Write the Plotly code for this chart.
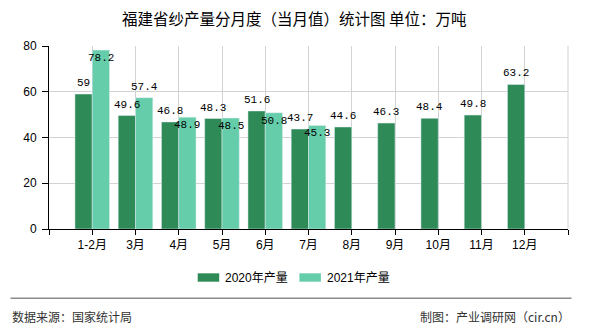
import plotly.graph_objects as go

months = ["1-2月", "3月", "4月", "5月", "6月", "7月", "8月", "9月", "10月", "11月", "12月"]
y2020 = [59, 49.6, 46.8, 48.3, 51.6, 43.7, 44.6, 46.3, 48.4, 49.8, 63.2]
y2021 = [78.2, 57.4, 48.9, 48.5, 50.8, 45.3]
inside2021 = [True, False, True, True, True, True]
yticks = [0, 20, 40, 60, 80]
series_names = ["2020年产量", "2021年产量"]

C20 = "#2E8B57"
C21 = "#66CDAA"
FONT = "'Liberation Sans', 'Noto Sans CJK SC', sans-serif"
CJK = "'Noto Sans CJK SC', sans-serif"
MONO = "'Liberation Mono', 'DejaVu Sans Mono', monospace"

W, H = 590, 330
L, R, T, B = 49, 22, 46, 101
PW, PH = W - L - R, H - T - B


def px(x):
    return (x - L) / PW


def py(y):
    return (H - B - y) / PH


xs = list(range(1, len(months) + 1))

fig = go.Figure()
fig.add_trace(go.Bar(x=xs, y=y2020, name=series_names[0], marker_color=C20,
                     width=0.4, offset=-0.4, showlegend=False))
fig.add_trace(go.Bar(x=xs[:len(y2021)], y=y2021, name=series_names[1], marker_color=C21,
                     width=0.4, offset=0, showlegend=False))

annotations = []
for x, v in zip(xs, y2020):
    annotations.append(dict(x=x - 0.2, y=v, xref="x", yref="y", text=str(v), showarrow=False,
                            xanchor="center", yanchor="bottom", yshift=3,
                            font=dict(family=MONO, size=11, color="#000")))
for x, v, ins in zip(xs, y2021, inside2021):
    annotations.append(dict(x=x + 0.2, y=v, xref="x", yref="y", text=str(v), showarrow=False,
                            xanchor="center", yanchor="top" if ins else "bottom",
                            yshift=0 if ins else 3,
                            font=dict(family=MONO, size=11, color="#000")))

annotations += [
    dict(text="福建省纱产量分月度（当月值）统计图 单位：万吨", xref="paper", yref="paper",
         x=px(294), y=py(18), xanchor="center", yanchor="middle", showarrow=False,
         font=dict(family=CJK, size=15.5, color="#000")),
    dict(text=series_names[0], xref="paper", yref="paper", x=px(223), y=py(277.7),
         xanchor="left", yanchor="middle", showarrow=False,
         font=dict(family=FONT, size=12, color="#000")),
    dict(text=series_names[1], xref="paper", yref="paper", x=px(325), y=py(277.7),
         xanchor="left", yanchor="middle", showarrow=False,
         font=dict(family=FONT, size=12, color="#000")),
    dict(text="数据来源：国家统计局", xref="paper", yref="paper",
         x=px(10), y=py(316), xanchor="left", yanchor="middle", showarrow=False,
         font=dict(family=CJK, size=12, color="#333")),
    dict(text="制图：产业调研网（cir.cn）", xref="paper", yref="paper",
         x=px(572), y=py(316), xanchor="right", yanchor="middle", showarrow=False,
         font=dict(family=CJK, size=12, color="#333")),
]

shapes = [
    dict(type="line", xref="paper", yref="paper", x0=1, x1=1, y0=0, y1=1,
         line=dict(color="#d3d3d3", width=1)),
    dict(type="line", xref="paper", yref="paper", x0=px(10.5), x1=px(571.5),
         y0=py(298.3), y1=py(298.3), line=dict(color="#8c8c8c", width=1.5)),
    dict(type="rect", xref="paper", yref="paper", x0=px(197.7), x1=px(219.2),
         y0=py(281.7), y1=py(273.3), line=dict(width=0), fillcolor=C20),
    dict(type="rect", xref="paper", yref="paper", x0=px(299.4), x1=px(320.9),
         y0=py(281.7), y1=py(273.3), line=dict(width=0), fillcolor=C21),
]

fig.update_layout(
    width=W, height=H,
    margin=dict(l=L, r=R, t=T, b=B),
    paper_bgcolor="white", plot_bgcolor="white",
    barmode="overlay",
    showlegend=False,
    font=dict(family=FONT, size=12, color="#000"),
    xaxis=dict(
        range=[0, 12], tickvals=list(range(0, 13)),
        ticktext=[""] + months + [""],
        showgrid=True, gridcolor="#d3d3d3", gridwidth=1,
        showline=True, linecolor="#000", linewidth=1,
        ticks="outside", ticklen=5, tickcolor="#000",
        tickfont=dict(family=FONT, size=12, color="#000"),
        zeroline=False,
    ),
    yaxis=dict(
        range=[0, 80], tickvals=yticks,
        showgrid=True, gridcolor="#d3d3d3", gridwidth=1,
        showline=True, linecolor="#000", linewidth=1,
        ticks="outside", ticklen=6, tickcolor="#000",
        ticklabelstandoff=3,
        tickfont=dict(family=FONT, size=12, color="#000"),
        zeroline=False,
    ),
    shapes=shapes,
    annotations=annotations,
)

fig.write_html("out.html")
